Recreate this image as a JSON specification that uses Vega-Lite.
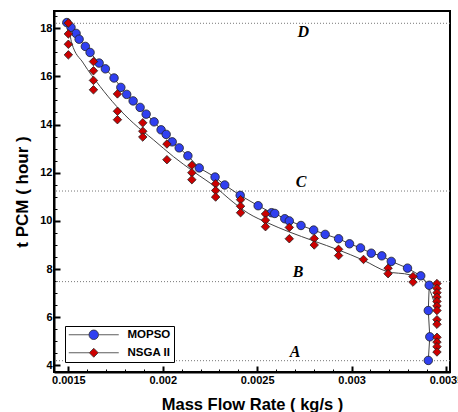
{
  "$schema": "https://vega.github.io/schema/vega-lite/v6.json",
  "autosize": {"type": "none"},
  "width": 396,
  "height": 361,
  "padding": {"left": 54, "top": 11, "right": 8, "bottom": 40},
  "background": "white",
  "datasets": {
    "pts": [
      {"series": "MOPSO", "i": 1, "x": 0.001492, "y": 18.23},
      {"series": "MOPSO", "i": 2, "x": 0.001514, "y": 18.03},
      {"series": "MOPSO", "i": 3, "x": 0.001541, "y": 17.78},
      {"series": "MOPSO", "i": 4, "x": 0.001557, "y": 17.54},
      {"series": "MOPSO", "i": 5, "x": 0.00159, "y": 17.24},
      {"series": "MOPSO", "i": 6, "x": 0.001615, "y": 16.99},
      {"series": "MOPSO", "i": 7, "x": 0.001663, "y": 16.55},
      {"series": "MOPSO", "i": 8, "x": 0.001696, "y": 16.31},
      {"series": "MOPSO", "i": 9, "x": 0.001742, "y": 15.93},
      {"series": "MOPSO", "i": 10, "x": 0.001778, "y": 15.54},
      {"series": "MOPSO", "i": 11, "x": 0.001809, "y": 15.25},
      {"series": "MOPSO", "i": 12, "x": 0.001843, "y": 14.98},
      {"series": "MOPSO", "i": 13, "x": 0.00188, "y": 14.71},
      {"series": "MOPSO", "i": 14, "x": 0.001912, "y": 14.43},
      {"series": "MOPSO", "i": 15, "x": 0.001954, "y": 14.11},
      {"series": "MOPSO", "i": 16, "x": 0.001991, "y": 13.78},
      {"series": "MOPSO", "i": 17, "x": 0.002018, "y": 13.59},
      {"series": "MOPSO", "i": 18, "x": 0.00205, "y": 13.28},
      {"series": "MOPSO", "i": 19, "x": 0.002087, "y": 13.03},
      {"series": "MOPSO", "i": 20, "x": 0.002133, "y": 12.7},
      {"series": "MOPSO", "i": 21, "x": 0.002193, "y": 12.2},
      {"series": "MOPSO", "i": 22, "x": 0.002277, "y": 11.82},
      {"series": "MOPSO", "i": 23, "x": 0.002328, "y": 11.49},
      {"series": "MOPSO", "i": 24, "x": 0.00241, "y": 11.06},
      {"series": "MOPSO", "i": 25, "x": 0.002505, "y": 10.63},
      {"series": "MOPSO", "i": 26, "x": 0.002576, "y": 10.34},
      {"series": "MOPSO", "i": 27, "x": 0.002593, "y": 10.31},
      {"series": "MOPSO", "i": 28, "x": 0.002646, "y": 10.09},
      {"series": "MOPSO", "i": 29, "x": 0.00267, "y": 10.0},
      {"series": "MOPSO", "i": 30, "x": 0.002732, "y": 9.81},
      {"series": "MOPSO", "i": 31, "x": 0.002799, "y": 9.62},
      {"series": "MOPSO", "i": 32, "x": 0.00286, "y": 9.44},
      {"series": "MOPSO", "i": 33, "x": 0.002931, "y": 9.26},
      {"series": "MOPSO", "i": 34, "x": 0.002989, "y": 9.05},
      {"series": "MOPSO", "i": 35, "x": 0.003047, "y": 8.88},
      {"series": "MOPSO", "i": 36, "x": 0.003104, "y": 8.66},
      {"series": "MOPSO", "i": 37, "x": 0.00316, "y": 8.55},
      {"series": "MOPSO", "i": 38, "x": 0.00321, "y": 8.32},
      {"series": "MOPSO", "i": 39, "x": 0.003296, "y": 8.04},
      {"series": "MOPSO", "i": 40, "x": 0.003366, "y": 7.72},
      {"series": "MOPSO", "i": 41, "x": 0.003411, "y": 7.33},
      {"series": "MOPSO", "i": 42, "x": 0.003406, "y": 6.28},
      {"series": "MOPSO", "i": 43, "x": 0.003414, "y": 5.19},
      {"series": "MOPSO", "i": 44, "x": 0.003406, "y": 4.21},
      {"series": "NSGA II", "i": 1, "x": 0.0015, "y": 18.21},
      {"series": "NSGA II", "i": 2, "x": 0.0015, "y": 17.76},
      {"series": "NSGA II", "i": 3, "x": 0.0015, "y": 17.33},
      {"series": "NSGA II", "i": 4, "x": 0.0015, "y": 16.89},
      {"series": "NSGA II", "i": 5, "x": 0.001633, "y": 16.61},
      {"series": "NSGA II", "i": 6, "x": 0.001633, "y": 16.23},
      {"series": "NSGA II", "i": 7, "x": 0.001633, "y": 15.83},
      {"series": "NSGA II", "i": 8, "x": 0.001633, "y": 15.44},
      {"series": "NSGA II", "i": 9, "x": 0.00176, "y": 15.27},
      {"series": "NSGA II", "i": 10, "x": 0.00176, "y": 14.55},
      {"series": "NSGA II", "i": 11, "x": 0.00176, "y": 14.2},
      {"series": "NSGA II", "i": 12, "x": 0.001894, "y": 14.07},
      {"series": "NSGA II", "i": 13, "x": 0.001894, "y": 13.72},
      {"series": "NSGA II", "i": 14, "x": 0.001894, "y": 13.48},
      {"series": "NSGA II", "i": 15, "x": 0.002022, "y": 13.19},
      {"series": "NSGA II", "i": 16, "x": 0.002022, "y": 12.54},
      {"series": "NSGA II", "i": 17, "x": 0.002154, "y": 12.31},
      {"series": "NSGA II", "i": 18, "x": 0.002154, "y": 12.0},
      {"series": "NSGA II", "i": 19, "x": 0.002154, "y": 11.71},
      {"series": "NSGA II", "i": 20, "x": 0.00228, "y": 11.54},
      {"series": "NSGA II", "i": 21, "x": 0.00228, "y": 11.26},
      {"series": "NSGA II", "i": 22, "x": 0.00228, "y": 10.99},
      {"series": "NSGA II", "i": 23, "x": 0.002412, "y": 10.88},
      {"series": "NSGA II", "i": 24, "x": 0.002412, "y": 10.61},
      {"series": "NSGA II", "i": 25, "x": 0.002412, "y": 10.34},
      {"series": "NSGA II", "i": 26, "x": 0.002544, "y": 10.29},
      {"series": "NSGA II", "i": 27, "x": 0.002544, "y": 10.03},
      {"series": "NSGA II", "i": 28, "x": 0.002544, "y": 9.76},
      {"series": "NSGA II", "i": 29, "x": 0.00267, "y": 9.73},
      {"series": "NSGA II", "i": 30, "x": 0.00267, "y": 9.26},
      {"series": "NSGA II", "i": 31, "x": 0.002802, "y": 9.27},
      {"series": "NSGA II", "i": 32, "x": 0.002802, "y": 9.0},
      {"series": "NSGA II", "i": 33, "x": 0.002931, "y": 8.82},
      {"series": "NSGA II", "i": 34, "x": 0.002931, "y": 8.56},
      {"series": "NSGA II", "i": 35, "x": 0.003063, "y": 8.4},
      {"series": "NSGA II", "i": 36, "x": 0.003193, "y": 8.04},
      {"series": "NSGA II", "i": 37, "x": 0.003193, "y": 7.81},
      {"series": "NSGA II", "i": 38, "x": 0.003325, "y": 7.69},
      {"series": "NSGA II", "i": 39, "x": 0.003325, "y": 7.46},
      {"series": "NSGA II", "i": 40, "x": 0.003452, "y": 7.4},
      {"series": "NSGA II", "i": 41, "x": 0.003452, "y": 7.2},
      {"series": "NSGA II", "i": 42, "x": 0.003452, "y": 7.02},
      {"series": "NSGA II", "i": 43, "x": 0.003452, "y": 6.84},
      {"series": "NSGA II", "i": 44, "x": 0.003452, "y": 6.66},
      {"series": "NSGA II", "i": 45, "x": 0.003452, "y": 6.47},
      {"series": "NSGA II", "i": 46, "x": 0.003452, "y": 6.28},
      {"series": "NSGA II", "i": 47, "x": 0.003452, "y": 5.9},
      {"series": "NSGA II", "i": 48, "x": 0.003452, "y": 5.71},
      {"series": "NSGA II", "i": 49, "x": 0.003452, "y": 5.17},
      {"series": "NSGA II", "i": 50, "x": 0.003452, "y": 4.97},
      {"series": "NSGA II", "i": 51, "x": 0.003452, "y": 4.78},
      {"series": "NSGA II", "i": 52, "x": 0.003452, "y": 4.56}
    ],
    "fit": [
      {"i": 1, "x": 0.0015, "y": 18.21},
      {"i": 2, "x": 0.001518, "y": 17.38},
      {"i": 3, "x": 0.001579, "y": 16.55},
      {"i": 4, "x": 0.001668, "y": 15.58},
      {"i": 5, "x": 0.001756, "y": 14.75},
      {"i": 6, "x": 0.001844, "y": 14.06},
      {"i": 7, "x": 0.00195, "y": 13.37},
      {"i": 8, "x": 0.002056, "y": 12.67},
      {"i": 9, "x": 0.002162, "y": 12.05},
      {"i": 10, "x": 0.002286, "y": 11.36},
      {"i": 11, "x": 0.002346, "y": 10.95},
      {"i": 12, "x": 0.002452, "y": 10.32},
      {"i": 13, "x": 0.002558, "y": 9.91},
      {"i": 14, "x": 0.002664, "y": 9.56},
      {"i": 15, "x": 0.002806, "y": 9.15},
      {"i": 16, "x": 0.002929, "y": 8.8},
      {"i": 17, "x": 0.003062, "y": 8.37},
      {"i": 18, "x": 0.003187, "y": 7.9},
      {"i": 19, "x": 0.003311, "y": 7.76},
      {"i": 20, "x": 0.003381, "y": 7.56},
      {"i": 21, "x": 0.003417, "y": 7.07},
      {"i": 22, "x": 0.003452, "y": 6.24}
    ],
    "levels": [{"y": 18.2}, {"y": 11.24}, {"y": 7.48}, {"y": 4.2}],
    "labels": [
      {"t": "D", "x": 0.002744, "y": 17.85},
      {"t": "C", "x": 0.002733, "y": 11.62},
      {"t": "B", "x": 0.002717, "y": 7.89},
      {"t": "A", "x": 0.0027, "y": 4.57}
    ]
  },
  "config": {
    "view": {"stroke": "black", "strokeWidth": 2},
    "axis": {
      "grid": false,
      "domainColor": "black",
      "domainWidth": 2,
      "tickColor": "black",
      "labelColor": "black",
      "labelFont": "Liberation Sans Narrow, Liberation Sans",
      "labelFontWeight": "bold",
      "labelFontSize": 11,
      "labelFlush": false,
      "labelOverlap": false,
      "titleFont": "Liberation Sans",
      "titleFontWeight": "bold",
      "titleColor": "black"
    }
  },
  "layer": [
    {
      "data": {"name": "levels"},
      "mark": {"type": "rule", "color": "#777777", "strokeWidth": 1, "strokeDash": [1, 2]},
      "encoding": {
        "y": {"field": "y", "type": "quantitative"}
      }
    },
    {
      "data": {"name": "pts"},
      "transform": [{"filter": "datum.series === 'MOPSO'"}],
      "mark": {"type": "line", "color": "#444444", "strokeWidth": 1},
      "encoding": {
        "x": {"field": "x", "type": "quantitative"},
        "y": {"field": "y", "type": "quantitative"},
        "order": {"field": "i"}
      }
    },
    {
      "data": {"name": "fit"},
      "mark": {"type": "line", "color": "#444444", "strokeWidth": 1, "interpolate": "monotone"},
      "encoding": {
        "x": {"field": "x", "type": "quantitative"},
        "y": {"field": "y", "type": "quantitative"},
        "order": {"field": "i"}
      }
    },
    {
      "data": {"name": "pts"},
      "transform": [{"filter": "datum.series === 'MOPSO'"}],
      "mark": {"type": "point", "shape": "circle", "filled": true, "size": 72, "stroke": "#222222", "strokeWidth": 0.8, "opacity": 1},
      "encoding": {
        "x": {
          "field": "x", "type": "quantitative",
          "scale": {"domain": [0.001424, 0.003521], "nice": false, "zero": false},
          "axis": {
            "title": "Mass Flow Rate ( kg/s )",
            "titleFontSize": 16.5,
            "titlePadding": 8,
            "tickCount": 100,
            "values": [0.0015, 0.0016, 0.0017, 0.0018, 0.0019, 0.002, 0.0021, 0.0022, 0.0023, 0.0024, 0.0025, 0.0026, 0.0027, 0.0028, 0.0029, 0.003, 0.0031, 0.0032, 0.0033, 0.0034, 0.0035],
            "format": ".4~f",
            "labelExpr": "indexof(['0.0015', '0.002', '0.0025', '0.003', '0.0035'], datum.label) >= 0 ? datum.label : ''",
            "labelPadding": 8,
            "tickSize": {"condition": {"test": "indexof([15, 20, 25, 30, 35], round(datum.value * 10000)) >= 0", "value": -6}, "value": -3},
            "tickWidth": {"condition": {"test": "indexof([15, 20, 25, 30, 35], round(datum.value * 10000)) >= 0", "value": 2}, "value": 1},
            "labelOverlap": false,
            "labelFlush": false
          }
        },
        "y": {
          "field": "y", "type": "quantitative",
          "scale": {"domain": [3.73, 18.71], "nice": false, "zero": false},
          "axis": {
            "title": "t PCM ( hour )",
            "titleFontSize": 17,
            "titlePadding": 8,
            "tickCount": 100,
            "values": [4, 4.5, 5, 5.5, 6, 6.5, 7, 7.5, 8, 8.5, 9, 9.5, 10, 10.5, 11, 11.5, 12, 12.5, 13, 13.5, 14, 14.5, 15, 15.5, 16, 16.5, 17, 17.5, 18, 18.5],
            "labelExpr": "datum.value % 2 == 0 ? '' + datum.value : ''",
            "labelPadding": 8,
            "tickSize": {"condition": {"test": "datum.value % 2 == 0", "value": -6}, "value": -3},
            "tickWidth": {"condition": {"test": "datum.value % 2 == 0", "value": 2}, "value": 1},
            "labelOverlap": false
          }
        },
        "fill": {
          "field": "series", "type": "nominal",
          "scale": {"domain": ["MOPSO", "NSGA II"], "range": ["#3040f0", "#cc0000"]},
          "legend": {
            "title": null, "orient": "none", "legendX": 11, "legendY": 315,
            "strokeColor": "black", "fillColor": "white", "padding": 3,
            "symbolSize": 100, "symbolOffset": 20, "labelOffset": 28,
            "labelFont": "Liberation Sans", "labelFontSize": 11.5, "labelFontWeight": "bold", "labelColor": "black",
            "rowPadding": 4, "symbolOpacity": 1, "symbolStrokeColor": "#333333", "symbolStrokeWidth": 0.8,
            "symbolType": {"expr": "datum.value === 'MOPSO' ? 'M-5,0L-0.95,0M0.95,0L5,0M-0.95,0A0.95,0.95 0 1,0 0.95,0A0.95,0.95 0 1,0 -0.95,0Z' : 'M-5,0L-0.9,0M0.9,0L5,0M0,-0.9L0.9,0L0,0.9L-0.9,0Z'"}
          }
        }
      }
    },
    {
      "data": {"name": "pts"},
      "transform": [{"filter": "datum.series === 'NSGA II'"}],
      "mark": {"type": "point", "shape": "diamond", "filled": true, "size": 72, "stroke": "#222222", "strokeWidth": 0.8, "opacity": 1},
      "encoding": {
        "x": {"field": "x", "type": "quantitative"},
        "y": {"field": "y", "type": "quantitative"},
        "fill": {
          "field": "series", "type": "nominal",
          "scale": {"domain": ["MOPSO", "NSGA II"], "range": ["#3040f0", "#cc0000"]},
          "legend": {
            "title": null, "orient": "none", "legendX": 11, "legendY": 315,
            "strokeColor": "black", "fillColor": "white", "padding": 3,
            "symbolSize": 100, "symbolOffset": 20, "labelOffset": 28,
            "labelFont": "Liberation Sans", "labelFontSize": 11.5, "labelFontWeight": "bold", "labelColor": "black",
            "rowPadding": 4, "symbolOpacity": 1, "symbolStrokeColor": "#333333", "symbolStrokeWidth": 0.8,
            "symbolType": {"expr": "datum.value === 'MOPSO' ? 'M-5,0L-0.95,0M0.95,0L5,0M-0.95,0A0.95,0.95 0 1,0 0.95,0A0.95,0.95 0 1,0 -0.95,0Z' : 'M-5,0L-0.9,0M0.9,0L5,0M0,-0.9L0.9,0L0,0.9L-0.9,0Z'"}
          }
        }
      }
    },
    {
      "data": {"name": "labels"},
      "mark": {"type": "text", "font": "Liberation Serif", "fontStyle": "italic", "fontWeight": "bold", "fontSize": 16, "color": "black"},
      "encoding": {
        "x": {"field": "x", "type": "quantitative"},
        "y": {"field": "y", "type": "quantitative"},
        "text": {"field": "t"}
      }
    }
  ]
}
